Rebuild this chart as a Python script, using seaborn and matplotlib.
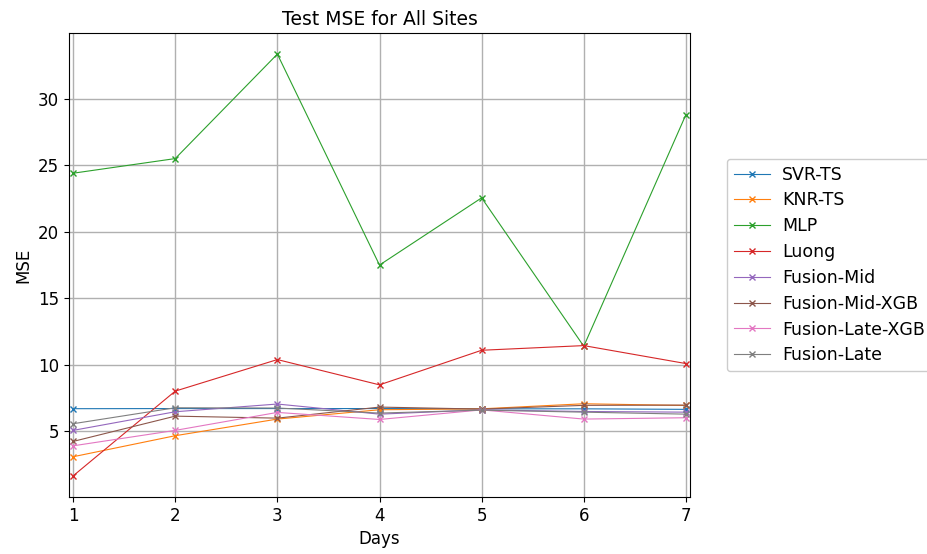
import pandas as pd
import matplotlib
matplotlib.use("Agg")
import matplotlib.pyplot as plt
import seaborn as sns

days = [1, 2, 3, 4, 5, 6, 7]
svr_ts = [6.71, 6.72, 6.72, 6.72, 6.70, 6.70, 6.66]
knr_ts = [3.10, 4.68, 5.93, 6.63, 6.70, 7.08, 6.95]
mlp = [24.4, 25.5, 33.35, 17.5, 22.55, 11.4, 28.8]
luong = [1.66, 8.03, 10.4, 8.5, 11.1, 11.45, 10.1]
fusion_mid = [5.08, 6.48, 7.06, 6.30, 6.62, 6.50, 6.45]
fusion_mid_xgb = [4.25, 6.15, 6.00, 6.83, 6.68, 6.96, 6.98]
fusion_late_xgb = [3.92, 5.08, 6.43, 5.90, 6.62, 5.93, 6.03]
fusion_late = [5.58, 6.78, 6.76, 6.38, 6.60, 6.45, 6.30]

series = {
    "SVR-TS": svr_ts,
    "KNR-TS": knr_ts,
    "MLP": mlp,
    "Luong": luong,
    "Fusion-Mid": fusion_mid,
    "Fusion-Mid-XGB": fusion_mid_xgb,
    "Fusion-Late-XGB": fusion_late_xgb,
    "Fusion-Late": fusion_late,
}

plt.rcParams["font.family"] = ["DejaVu Sans"]
plt.rcParams["font.size"] = 12

fig = plt.figure(figsize=(9.28, 5.54), dpi=100)
ax = fig.add_axes([69 / 928, 57 / 554, 621 / 928, 464 / 554])

palette = sns.color_palette("tab10", 8)
for (name, vals), color in zip(series.items(), palette):
    sns.lineplot(x=days, y=vals, label=name, color=color, marker="x",
                 markersize=4, markeredgecolor=color, markeredgewidth=1,
                 linewidth=0.8, ax=ax)

ax.set_xlim(0.96, 7.04)
ax.set_xticks(days)
ax.set_title("Test MSE for All Sites", fontsize=13.5)
ax.set_xlabel("Days")
ax.set_ylabel("MSE")
ax.grid(True, color="#b0b0b0", linewidth=1)

ax.legend(loc="center left", bbox_to_anchor=(1.045, 0.5), fontsize=12.5,
          labelspacing=0.45, handlelength=2.1, handletextpad=0.7,
          framealpha=1)

fig.savefig("out.png", dpi=100)
